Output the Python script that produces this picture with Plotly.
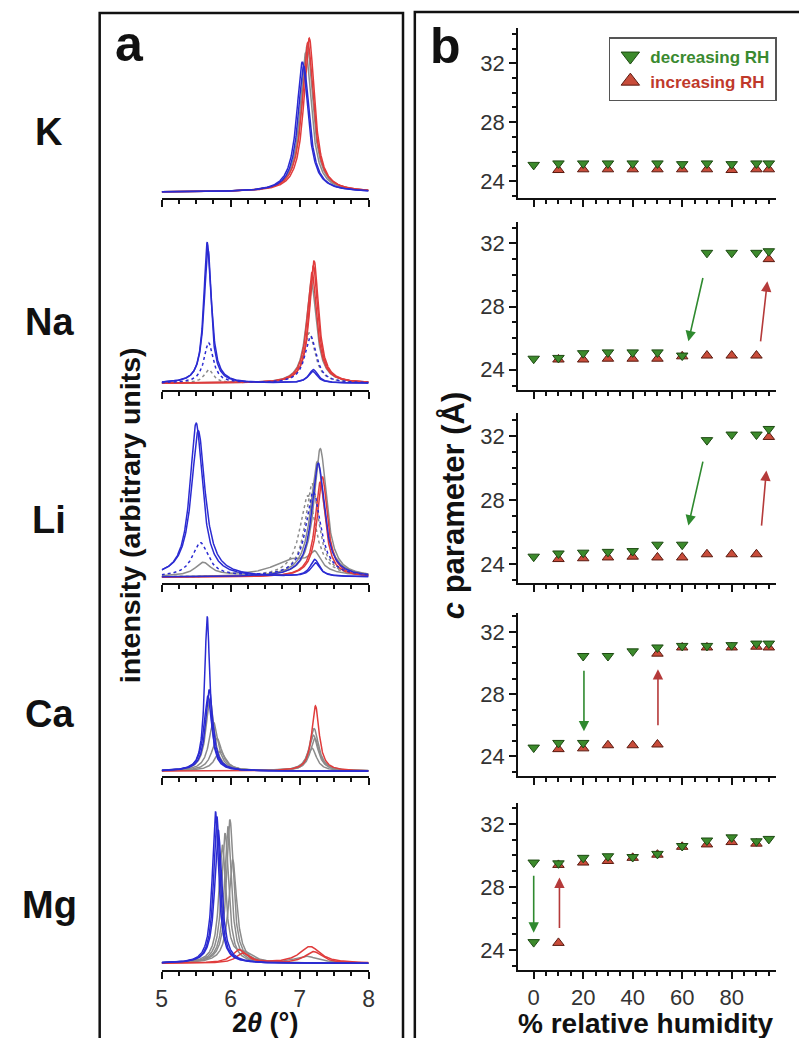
import numpy as np
import plotly.graph_objects as go

# ---------------- DATA ----------------
ELEMENTS = ["K", "Na", "Li", "Ca", "Mg"]

# Panel a: XRD peaks -> (colour, dash, [(2theta centre, height, half-width), ...])
TWO_THETA_TICKS = [5, 6, 7, 8]
BASELINES = [0.035, 0.04, 0.035, 0.03, 0.04]

K_CURVES = [
    ("gray", "solid", [(7.09, 0.82, 0.10)]),
    ("gray", "solid", [(7.11, 0.86, 0.10)]),
    ("red", "solid", [(7.12, 0.88, 0.10)]),
    ("red", "solid", [(7.14, 0.905, 0.095)]),
    ("blue", "solid", [(7.06, 0.74, 0.10)]),
    ("blue", "solid", [(7.04, 0.765, 0.10)]),
]
NA_CURVES = [
    ("gray", "dot", [(5.68, 0.08, 0.08), (7.14, 0.30, 0.10)]),
    ("gray", "solid", [(7.17, 0.60, 0.09)]),
    ("red", "solid", [(7.18, 0.66, 0.085)]),
    ("red", "solid", [(7.20, 0.70, 0.08)]),
    ("red", "solid", [(7.21, 0.73, 0.08)]),
    ("blue", "dot", [(5.68, 0.24, 0.08), (7.16, 0.28, 0.10)]),
    ("blue", "solid", [(5.67, 0.80, 0.065), (7.19, 0.07, 0.08)]),
    ("blue", "solid", [(5.66, 0.84, 0.06), (7.20, 0.08, 0.08)]),
]
LI_CURVES = [
    ("gray", "solid", [(5.60, 0.08, 0.14), (6.90, 0.10, 0.35), (7.22, 0.10, 0.10)]),
    ("gray", "dot", [(7.12, 0.48, 0.14)]),
    ("gray", "dot", [(7.18, 0.55, 0.12)]),
    ("gray", "solid", [(7.26, 0.68, 0.12)]),
    ("gray", "solid", [(7.30, 0.755, 0.11)]),
    ("red", "solid", [(7.30, 0.56, 0.09)]),
    ("red", "solid", [(7.33, 0.59, 0.09)]),
    ("blue", "dot", [(5.56, 0.20, 0.14), (7.20, 0.50, 0.13)]),
    ("blue", "solid", [(7.27, 0.67, 0.11)]),
    ("blue", "solid", [(5.53, 0.86, 0.12), (7.23, 0.08, 0.08)]),
    ("blue", "solid", [(5.50, 0.905, 0.11), (7.22, 0.10, 0.08)]),
]
CA_CURVES = [
    ("gray", "solid", [(5.85, 0.12, 0.10), (7.18, 0.14, 0.08)]),
    ("gray", "solid", [(5.80, 0.20, 0.09), (7.20, 0.22, 0.08)]),
    ("gray", "solid", [(5.75, 0.30, 0.08), (7.21, 0.26, 0.08)]),
    ("gray", "solid", [(5.70, 0.44, 0.07), (7.22, 0.20, 0.08)]),
    ("red", "solid", [(7.23, 0.40, 0.065)]),
    ("blue", "solid", [(5.69, 0.50, 0.065)]),
    ("blue", "solid", [(5.67, 0.46, 0.07)]),
    ("blue", "solid", [(5.66, 0.95, 0.045)]),
]
MG_CURVES = [
    ("gray", "solid", [(5.88, 0.70, 0.06), (6.20, 0.05, 0.15)]),
    ("gray", "solid", [(5.92, 0.78, 0.06)]),
    ("gray", "solid", [(5.96, 0.82, 0.06)]),
    ("gray", "solid", [(5.99, 0.86, 0.06), (7.10, 0.04, 0.20)]),
    ("gray", "solid", [(6.03, 0.62, 0.07)]),
    ("red", "solid", [(6.12, 0.08, 0.12), (7.15, 0.10, 0.18)]),
    ("red", "solid", [(6.18, 0.06, 0.12), (7.20, 0.07, 0.15)]),
    ("blue", "solid", [(5.82, 0.80, 0.06)]),
    ("blue", "solid", [(5.80, 0.88, 0.055)]),
    ("blue", "solid", [(5.78, 0.91, 0.055)]),
]
XRD = [K_CURVES, NA_CURVES, LI_CURVES, CA_CURVES, MG_CURVES]

# Panel b: c parameter (Å) vs % RH
RH_TICKS = [0, 20, 40, 60, 80]
C_TICKS = [24, 28, 32]

K_DEC_RH = [0, 10, 20, 30, 40, 50, 60, 70, 80, 90, 95]
K_DEC = [25.1, 25.2, 25.2, 25.2, 25.2, 25.2, 25.15, 25.2, 25.15, 25.2, 25.2]
K_INC_RH = [10, 20, 30, 40, 50, 60, 70, 80, 90, 95]
K_INC = [24.75, 24.8, 24.8, 24.8, 24.8, 24.8, 24.8, 24.75, 24.8, 24.8]

NA_DEC_RH = [0, 10, 20, 30, 40, 50, 60, 70, 80, 90, 95]
NA_DEC = [24.7, 24.75, 25.05, 25.1, 25.1, 25.1, 24.9, 31.4, 31.4, 31.4, 31.5]
NA_INC_RH = [10, 20, 30, 40, 50, 60, 70, 80, 90, 95]
NA_INC = [24.65, 24.65, 24.7, 24.7, 24.7, 24.85, 24.9, 24.9, 24.9, 31.0]

LI_DEC_RH = [0, 10, 20, 30, 40, 50, 60, 70, 80, 90, 95]
LI_DEC = [24.45, 24.65, 24.7, 24.75, 24.8, 25.2, 25.2, 31.75, 32.1, 32.1, 32.45]
LI_INC_RH = [10, 20, 30, 40, 50, 60, 70, 80, 90, 95]
LI_INC = [24.3, 24.35, 24.4, 24.45, 24.4, 24.4, 24.6, 24.6, 24.6, 31.95]

CA_DEC_RH = [0, 10, 20, 20, 30, 40, 50, 60, 70, 80, 90, 95]
CA_DEC = [24.55, 24.85, 24.85, 30.45, 30.45, 30.75, 31.0, 31.1, 31.1, 31.15, 31.25, 31.25]
CA_INC_RH = [10, 20, 30, 40, 50, 50, 60, 70, 80, 90, 95]
CA_INC = [24.45, 24.5, 24.7, 24.7, 24.75, 30.6, 31.0, 31.0, 31.0, 31.05, 31.0]

MG_DEC_RH = [0, 0, 10, 20, 30, 40, 50, 60, 70, 80, 90, 95]
MG_DEC = [24.5, 29.55, 29.5, 29.85, 29.95, 29.9, 30.1, 30.6, 30.95, 31.15, 30.9, 31.05]
MG_INC_RH = [10, 10, 20, 30, 40, 50, 60, 70, 80, 90]
MG_INC = [24.45, 29.4, 29.55, 29.65, 29.85, 30.05, 30.55, 30.7, 30.85, 30.75]

DEC = [(K_DEC_RH, K_DEC), (NA_DEC_RH, NA_DEC), (LI_DEC_RH, LI_DEC), (CA_DEC_RH, CA_DEC), (MG_DEC_RH, MG_DEC)]
INC = [(K_INC_RH, K_INC), (NA_INC_RH, NA_INC), (LI_INC_RH, LI_INC), (CA_INC_RH, CA_INC), (MG_INC_RH, MG_INC)]

# Transition arrows: (row, colour key, tail RH, tail c, head RH, head c)
ARROWS = [
    (1, "dec", 68.5, 29.9, 62.5, 25.8), (1, "inc", 91.6, 25.7, 94.4, 29.6),
    (2, "dec", 68.5, 30.5, 62.5, 26.4), (2, "inc", 92.0, 26.3, 94.0, 29.85),
    (3, "dec", 20.3, 29.6, 20.3, 25.6), (3, "inc", 50.2, 25.9, 50.2, 29.6),
    (4, "dec", 0.0, 28.8, 0.0, 25.1), (4, "inc", 10.4, 25.3, 10.4, 28.6),
]

# ---------------- LAYOUT / STYLE ----------------
W, H = 807, 1046
OFF = 8                              # default page margin around the plot div
FW, FH = W - 2 * OFF, H - 2 * OFF    # figure size so the page fits the window exactly
FONT = "Liberation Sans, Arial, sans-serif"
ROW_TOP = [28, 222, 413, 613, 803]
ROW_BOT = [198, 390, 583, 776, 970]
B_YRANGES = [(22.85, 34.4), (22.72, 33.35), (22.8, 33.45), (22.72, 33.22), (22.73, 33.33)]
LINE_COLORS = {"blue": "#2b2bd2", "red": "#e03c3c", "gray": "#8c8c8c"}
DEC_FILL, DEC_EDGE, DEC_TXT = "#3c8a2c", "#1d4a12", "#3a8a30"
INC_FILL, INC_EDGE, INC_TXT = "#c84c3a", "#5a1a10", "#c0392b"
ARROW_COL = {"dec": "#2f8a2f", "inc": "#b53a3a"}


def px_x(p):
    return (p - OFF) / FW


def px_y(p):
    return 1 - (p - OFF) / FH


fig = go.Figure()
xgrid = np.linspace(5.0, 8.0, 601)

layout = dict(
    width=FW, height=FH, margin=dict(l=0, r=0, t=0, b=0), autosize=False,
    paper_bgcolor="white", plot_bgcolor="white", showlegend=True,
    font=dict(family=FONT, color="#222"),
)

for i in range(5):
    ya = 2 * i + 1   # panel a axis index
    yb = 2 * i + 2   # panel b axis index
    dom = [px_y(ROW_BOT[i]), px_y(ROW_TOP[i])]
    last = i == 4
    # ---- panel a axes
    layout[f"xaxis{ya}"] = dict(
        domain=[px_x(158), px_x(368)], anchor=f"y{ya}", range=[5, 8],
        tickmode="array", tickvals=TWO_THETA_TICKS, showticklabels=last,
        ticks="outside", ticklen=7, tickwidth=2, tickcolor="#111",
        showline=True, linewidth=2, linecolor="#111", showgrid=False, zeroline=False,
        tickfont=dict(size=23, color="#333", family=FONT),
        minor=dict(tickmode="array", tickvals=[5.25, 5.5, 5.75, 6.25, 6.5, 6.75, 7.25, 7.5, 7.75],
                   ticks="outside", ticklen=4, tickwidth=1.5, tickcolor="#111", showgrid=False),
    )
    layout[f"yaxis{ya}"] = dict(domain=dom, anchor=f"x{ya}", range=[0, 1], visible=False)
    # ---- panel b axes
    layout[f"xaxis{yb}"] = dict(
        domain=[px_x(520), px_x(782)], anchor=f"y{yb}", range=[-6.25, 98],
        tickmode="array", tickvals=RH_TICKS, showticklabels=last,
        ticks="outside", ticklen=7, tickwidth=2, tickcolor="#111",
        showline=True, linewidth=2, linecolor="#111", showgrid=False, zeroline=False,
        tickfont=dict(size=22, color="#333", family=FONT),
        minor=dict(tickmode="array", tickvals=[5, 10, 15, 25, 30, 35, 45, 50, 55, 65, 70, 75, 85, 90, 95],
                   ticks="outside", ticklen=4, tickwidth=1.5, tickcolor="#111", showgrid=False),
    )
    layout[f"yaxis{yb}"] = dict(
        domain=dom, anchor=f"x{yb}", range=list(B_YRANGES[i]),
        tickmode="array", tickvals=C_TICKS,
        ticks="outside", ticklen=7, tickwidth=2, tickcolor="#111",
        showline=True, linewidth=2, linecolor="#111", showgrid=False, zeroline=False,
        tickfont=dict(size=22, color="#333", family=FONT),
        minor=dict(tickmode="array", tickvals=[23, 25, 26, 27, 29, 30, 31, 33, 34],
                   ticks="outside", ticklen=4, tickwidth=1.5, tickcolor="#111", showgrid=False),
    )

    # ---- XRD curves
    for col, dash, peaks in XRD[i]:
        yv = np.full_like(xgrid, BASELINES[i])
        for c, a, w in peaks:
            yv = yv + a / (1 + ((xgrid - c) / w) ** 2)
        fig.add_trace(go.Scatter(
            x=xgrid, y=yv, mode="lines", xaxis=f"x{ya}", yaxis=f"y{ya}",
            line=dict(color=LINE_COLORS[col], width=1.5, dash=dash),
            showlegend=False, hoverinfo="skip"))

    # ---- c-parameter markers
    fig.add_trace(go.Scatter(
        x=INC[i][0], y=INC[i][1], mode="markers", xaxis=f"x{yb}", yaxis=f"y{yb}",
        marker=dict(symbol="triangle-up", size=10, color=INC_FILL, line=dict(color=INC_EDGE, width=1)),
        showlegend=False))
    fig.add_trace(go.Scatter(
        x=DEC[i][0], y=DEC[i][1], mode="markers", xaxis=f"x{yb}", yaxis=f"y{yb}",
        marker=dict(symbol="triangle-down", size=10, color=DEC_FILL, line=dict(color=DEC_EDGE, width=1)),
        showlegend=False))

# legend entries
fig.add_trace(go.Scatter(
    x=[None], y=[None], mode="markers", xaxis="x2", yaxis="y2",
    marker=dict(symbol="triangle-down", size=16, color=DEC_FILL, line=dict(color=DEC_EDGE, width=1)),
    name=f"<span style='color:{DEC_TXT}'><b>decreasing RH</b></span>"))
fig.add_trace(go.Scatter(
    x=[None], y=[None], mode="markers", xaxis="x2", yaxis="y2",
    marker=dict(symbol="triangle-up", size=16, color=INC_FILL, line=dict(color=INC_EDGE, width=1)),
    name=f"<span style='color:{INC_TXT}'><b>increasing RH</b></span>"))

layout["legend"] = dict(
    x=px_x(612), y=px_y(37), xanchor="left", yanchor="top",
    bgcolor="white", bordercolor="#555", borderwidth=1.5,
    font=dict(family=FONT, size=17), itemwidth=30, tracegroupgap=0,
)


def label(x, y, text, size, angle=0):
    return dict(x=px_x(x), y=px_y(y), xref="paper", yref="paper", showarrow=False,
                xanchor="center", yanchor="middle", textangle=angle, text=text,
                font=dict(family=FONT, size=size, color="#111"))


annotations = []
# arrows
for row, key, tx, ty, hx, hy in ARROWS:
    ax_id = 2 * row + 2
    annotations.append(dict(
        x=hx, y=hy, ax=tx, ay=ty, xref=f"x{ax_id}", yref=f"y{ax_id}",
        axref=f"x{ax_id}", ayref=f"y{ax_id}", showarrow=True, text="",
        arrowhead=2, arrowsize=1.3, arrowwidth=1.6, arrowcolor=ARROW_COL[key]))

# element labels
EL_Y = [132, 322, 520, 714, 905]
for name, yy in zip(ELEMENTS, EL_Y):
    annotations.append(label(44, yy, f"<b>{name}</b>", 38))
# panel letters
annotations.append(label(125, 44, "<b>a</b>", 50))
annotations.append(label(446, 46, "<b>b</b>", 50))
# axis titles
annotations.append(label(263, 1023, "<b>2<i>θ</i> (°)</b>", 27))
annotations.append(label(650, 1023, "<b>% relative humidity</b>", 28))
annotations.append(label(126, 515, "<b>intensity (arbitrary units)</b>", 28.5, -90))
annotations.append(label(455, 506, "<b><i>c</i> parameter (Å)</b>", 31, -90))
layout["annotations"] = annotations

# panel frames
layout["shapes"] = [
    dict(type="rect", xref="paper", yref="paper", x0=px_x(95), x1=px_x(403), y0=px_y(1070), y1=px_y(13),
         line=dict(color="#111", width=2.5)),
    dict(type="rect", xref="paper", yref="paper", x0=px_x(415), x1=px_x(840), y0=px_y(1070), y1=px_y(12),
         line=dict(color="#111", width=2.5)),
]

fig.update_layout(**layout)
fig.write_html("out.html")
